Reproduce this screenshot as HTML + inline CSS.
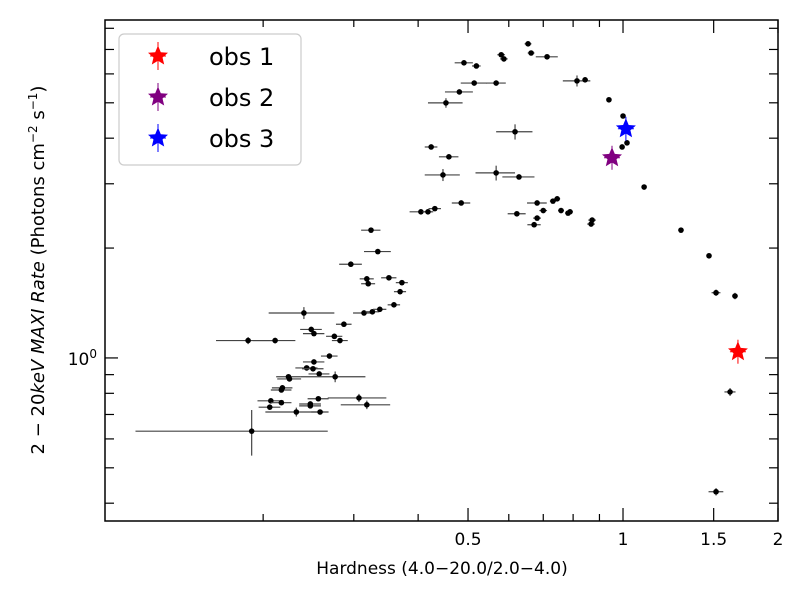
<!DOCTYPE html>
<html><head><meta charset="utf-8"><style>
body{margin:0;background:#fff;}
svg{font-family:"DejaVu Sans","Liberation Sans",sans-serif;}
</style></head><body>
<svg id="chart" width="806" height="604" xmlns="http://www.w3.org/2000/svg">
<g id="ticks"></g>
<g id="marks"></g>
<rect x="105" y="20" width="673" height="501" fill="none" stroke="#000" stroke-width="1.5"/>
<g id="legend">
<rect x="119" y="34" width="182" height="131" rx="5" fill="#fff" fill-opacity="0.8" stroke="#ccc" stroke-width="1.2"/>
</g>
<text x="442" y="574" font-size="17" text-anchor="middle">Hardness (4.0−20.0/2.0−4.0)</text>
<text transform="translate(44,270) rotate(-90)" font-size="18" text-anchor="middle">2 − 20<tspan font-style="italic">keV MAXI Rate</tspan> (Photons cm<tspan baseline-shift="super" font-size="12">−2</tspan> s<tspan baseline-shift="super" font-size="12">−1</tspan>)</text>
</svg>
<script>
const xs=[0.324,0.334,0.296,0.318,0.320,0.351,0.372,0.369,0.359,0.314,0.326,0.337,0.287,0.240,0.248,0.251,0.275,0.282,0.187,0.211,0.269,0.251,0.243,0.250,0.257,0.224,0.225,0.276,0.218,0.217,0.207,0.217,0.247,0.247,0.256,0.307,0.318,0.206,0.232,0.258,0.190,
0.654,0.663,0.580,0.587,0.712,0.491,0.519,0.514,0.567,0.814,0.844,0.481,0.453,0.939,1.0,0.617,1.018,0.996,0.424,0.459,0.447,0.567,0.628,1.099,0.485,0.405,0.418,0.431,0.681,0.731,0.745,0.700,0.758,0.782,0.789,0.622,0.681,0.672,0.871,0.867,1.296,1.469,1.516,1.650,1.614,1.516];
const ys=[2.239,1.956,1.806,1.647,1.597,1.658,1.608,1.519,1.398,1.328,1.338,1.359,1.237,1.328,1.197,1.166,1.146,1.116,1.116,1.116,1.012,0.975,0.939,0.934,0.904,0.888,0.876,0.888,0.828,0.817,0.763,0.754,0.748,0.739,0.773,0.777,0.744,0.733,0.711,0.711,0.630,
7.254,6.846,6.771,6.596,6.684,6.435,6.308,5.663,5.663,5.742,5.781,5.355,4.997,5.096,4.601,4.165,3.884,3.784,3.784,3.556,3.172,3.213,3.132,2.939,2.658,2.514,2.514,2.565,2.658,2.689,2.729,2.534,2.534,2.493,2.514,2.483,2.416,2.317,2.386,2.327,2.239,1.905,1.509,1.478,0.807,0.430];
const xErr=[0.014,0.02,0.015,0.01,0.01,0.012,0.01,0.01,0.01,0.015,0.01,0.01,0.01,0.035,0.012,0.012,0.01,0.01,0.025,0.02,0.01,0.012,0.012,0.012,0.012,0.012,0.012,0.04,0.01,0.01,0.012,0.01,0.012,0.012,0.012,0.04,0.035,0.01,0.03,0.01,0.077,
0.01,0.01,0.01,0.01,0.035,0.02,0.01,0.03,0.025,0.05,0.01,0.03,0.035,0.008,0.008,0.05,0.008,0.008,0.012,0.02,0.035,0.05,0.045,0.01,0.02,0.02,0.01,0.012,0.03,0.01,0.01,0.012,0.01,0.01,0.01,0.025,0.012,0.02,0.015,0.015,0.015,0.015,0.03,0.02,0.04,0.05];
const yErr=[0.03,0.02,0.01,0.01,0.01,0.01,0.01,0.01,0.01,0.01,0.01,0.01,0.01,0.05,0.02,0.01,0.01,0.01,0.025,0.02,0.01,0.01,0.01,0.01,0.01,0.01,0.01,0.03,0.01,0.01,0.01,0.01,0.01,0.01,0.01,0.02,0.02,0.01,0.02,0.01,0.09,
0.05,0.05,0.05,0.05,0.05,0.05,0.05,0.05,0.05,0.2,0.05,0.05,0.15,0.03,0.03,0.2,0.03,0.03,0.03,0.03,0.12,0.15,0.05,0.03,0.03,0.03,0.03,0.03,0.03,0.03,0.03,0.03,0.03,0.03,0.03,0.03,0.03,0.03,0.03,0.03,0.03,0.03,0.03,0.03,0.02,0.01];
const obsNames=["obs 1","obs 2","obs 3"];
const obsX=[1.672,0.952,1.013];
const obsY=[1.040,3.535,4.244];
const obsColors=["#ff0000","#800080","#0000ff"];
const xMajorTicks=[0.5,1,1.5,2];
const xTickLabels=["0.5","1","1.5","2"];
const xMinorTicks=[0.2,0.3,0.4,0.6,0.7,0.8,0.9];
const yMajorTicks=[1];
const yMinorTicks=[0.4,0.5,0.6,0.7,0.8,0.9,2,3,4,5,6,7,8];

const L=105,R=778,T=20,B=521;
const xmin=Math.log10(0.0986),xmax=Math.log10(2);
const ymin=Math.log10(0.3575),ymax=Math.log10(8.43);
const X=v=>L+(Math.log10(v)-xmin)/(xmax-xmin)*(R-L);
const Y=v=>B-(Math.log10(v)-ymin)/(ymax-ymin)*(B-T);
const NS="http://www.w3.org/2000/svg";
function mk(tag,attrs,parent){const e=document.createElementNS(NS,tag);for(const k in attrs)e.setAttribute(k,attrs[k]);parent.appendChild(e);return e;}
const tg=document.getElementById('ticks'),mg=document.getElementById('marks'),lg=document.getElementById('legend');
function ln(x1,y1,x2,y2,p,c,w){return mk('line',{x1,y1,x2,y2,stroke:c||'#000','stroke-width':w||1.2},p);}
xMajorTicks.forEach((v,i)=>{const x=X(v);
 let a=ln(x,B,x,B-13,tg);
 let b=ln(x,T,x,T+13,tg);
 const t=mk('text',{x:x,y:B+24,'font-size':17,'text-anchor':'middle'},tg);t.textContent=xTickLabels[i];
 });
xMinorTicks.forEach(v=>{const x=X(v);
 let a=ln(x,B,x,B-7,tg);
 let b=ln(x,T,x,T+7,tg);});
yMajorTicks.forEach(v=>{const y=Y(v);
 let a=ln(L,y,L+13,y,tg);
 let b=ln(R,y,R-13,y,tg);
 const t=mk('text',{x:L-8,y:y+7,'font-size':17,'text-anchor':'end'},tg);
 
 t.innerHTML='10<tspan baseline-shift="super" font-size="12">0</tspan>';});
yMinorTicks.forEach(v=>{const y=Y(v);
 let a=ln(L,y,L+9,y,tg);
 let b=ln(R,y,R-9,y,tg);});
xs.forEach((v,i)=>{
 const g=mk('g',{},mg);
 
 
 const cx=X(v),cy=Y(ys[i]);
 ln(X(Math.max(v-xErr[i],0.1)),cy,X(v+xErr[i]),cy,g,'#444',1.2);
 ln(cx,Y(Math.max(ys[i]-yErr[i],0.36)),cx,Y(ys[i]+yErr[i]),g,'#444',1.2);
 mk('circle',{cx,cy,r:2.8,fill:'#000'},g);
});
function star(cx,cy,r,color,p){let pts=[];for(let k=0;k<10;k++){const a=-Math.PI/2+k*Math.PI/5;const rr=k%2?r*0.45:r;pts.push((cx+rr*Math.cos(a)).toFixed(1)+','+(cy+rr*Math.sin(a)).toFixed(1));}
 return mk('polygon',{points:pts.join(' '),fill:color},p);}
obsX.forEach((v,i)=>{
 const g=mk('g',{},mg);
 
 
 const cx=X(v),cy=Y(obsY[i]);
 ln(cx-8,cy,cx+8,cy,g,obsColors[i],1);ln(cx,cy-12,cx,cy+12,g,obsColors[i],1);
 star(cx,cy,10.5,obsColors[i],g);
});
obsNames.forEach((n,i)=>{
 const g=mk('g',{},lg);
 
 
 const cy=56+i*41;
 ln(150,cy,166,cy,g,obsColors[i],1);ln(158,cy-14,158,cy+14,g,obsColors[i],1);
 star(158,cy,10.5,obsColors[i],g);
 const t=mk('text',{x:209,y:cy+9,'font-size':24},g);t.textContent=n;
});
</script>
</body></html>
